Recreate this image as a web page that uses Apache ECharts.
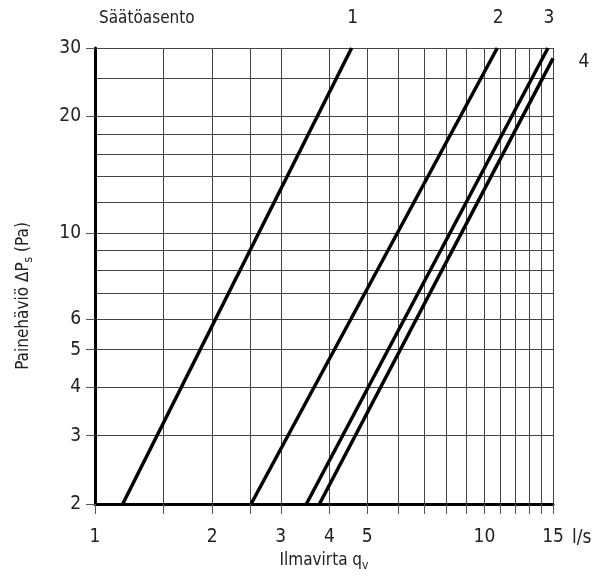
<!DOCTYPE html>
<html>
<head>
<meta charset="utf-8">
<script src="https://cdn.jsdelivr.net/npm/echarts@6/dist/echarts.min.js"></script>
<style>
html,body{margin:0;padding:0;background:#fff;}
#c{width:614px;height:577px;}
</style>
</head>
<body>
<div id="c"></div>
<script>
// Axis grid / tick values
var xGridValues = [1, 1.5, 2, 2.5, 3, 4, 5, 6, 7, 8, 9, 10, 11, 12, 13, 14, 15];
var xLabelValues = [1, 2, 3, 4, 5, 10, 15];
var yLabelValues = [2, 3, 4, 5, 6, 10, 20, 30];
var yMinorValues = [7, 8, 9, 12, 14, 16, 18, 25];

// Curves (Säätöasento 1..4): [airflow l/s, pressure Pa]
var curveNames = ['1', '2', '3', '4'];
var curve1 = [[1.178, 2], [4.56, 30]];
var curve2 = [[2.516, 2], [10.79, 30]];
var curve3 = [[3.49, 2], [14.56, 30]];
var curve4 = [[3.77, 2], [15, 28.2]];
var curves = [curve1, curve2, curve3, curve4];

var FONT = '"Liberation Sans Narrow", "DejaVu Sans Condensed", "Liberation Sans", sans-serif';
var TXT = '#222';

var chart = echarts.init(document.getElementById('c'), null, {renderer: 'canvas'});

var labelOffsets = [[1, -30], [1, -30], [1, -30], [31, 4]];

var series = curves.map(function (c, i) {
  return {
    type: 'line',
    name: curveNames[i],
    xAxisIndex: 0,
    yAxisIndex: 0,
    data: c,
    showSymbol: false,
    symbol: 'none',
    silent: true,
    z: 5,
    lineStyle: {color: '#000', width: 3.5},
    endLabel: {
      show: true,
      formatter: curveNames[i],
      distance: 0,
      align: 'center',
      verticalAlign: 'middle',
      offset: labelOffsets[i],
      fontFamily: FONT,
      fontSize: 19,
      color: TXT
    }
  };
});

var option = {
  animation: false,
  backgroundColor: '#fff',
  grid: {left: 95, right: 61, top: 48, bottom: 71, containLabel: false},
  xAxis: [{
    type: 'log',
    min: 1,
    max: 15,
    logBase: 10,
    name: '{a|Ilmavirta q}{s|v}',
    nameLocation: 'middle',
    nameGap: 46,
    nameTextStyle: {
      rich: {
        a: {fontFamily: FONT, fontSize: 17, color: TXT},
        s: {fontFamily: FONT, fontSize: 12, color: TXT, padding: [10, 0, 0, 0]}
      }
    },
    axisLine: {show: true, onZero: false, lineStyle: {color: '#000', width: 3}},
    axisTick: {show: true, inside: false, length: 10, customValues: xGridValues, lineStyle: {color: '#555', width: 1}},
    axisLabel: {show: true, customValues: xLabelValues, margin: 24, fontFamily: FONT, fontSize: 19, color: TXT},
    splitLine: {show: true, lineStyle: {color: '#444', width: 1}},
    minorTick: {show: false},
    minorSplitLine: {show: false}
  }],
  yAxis: [{
    type: 'log',
    min: 2,
    max: 30,
    logBase: 10,
    name: '{a|Painehäviö ΔP}{s|s}{a| (Pa)}',
    nameLocation: 'middle',
    nameGap: 60,
    nameRotate: 90,
    nameTextStyle: {
      padding: [0, 40, 0, 0],
      rich: {
        a: {fontFamily: FONT, fontSize: 17, color: TXT},
        s: {fontFamily: FONT, fontSize: 12, color: TXT, padding: [10, 0, 0, 0]}
      }
    },
    axisLine: {show: true, onZero: false, lineStyle: {color: '#000', width: 3}},
    axisTick: {show: true, inside: false, length: 9, customValues: yLabelValues, lineStyle: {color: '#555', width: 1}},
    axisLabel: {show: true, customValues: yLabelValues, margin: 14, fontFamily: FONT, fontSize: 19, color: TXT},
    splitLine: {show: true, lineStyle: {color: '#444', width: 1}},
    minorTick: {show: false},
    minorSplitLine: {show: false}
  }, {
    type: 'log',
    min: 2,
    max: 30,
    logBase: 10,
    position: 'left',
    axisLine: {show: false},
    axisTick: {show: false, customValues: yMinorValues},
    axisLabel: {show: false, customValues: yMinorValues},
    splitLine: {show: true, lineStyle: {color: '#444', width: 1}}
  }],
  graphic: [
    {type: 'text', left: 99, top: 10, style: {text: 'Säätöasento', font: '17px ' + FONT, fill: TXT}},
    {type: 'text', left: 572, top: 529, style: {text: 'l/s', font: '19px ' + FONT, fill: TXT}}
  ],
  series: series
};

chart.setOption(option);
</script>
</body>
</html>
